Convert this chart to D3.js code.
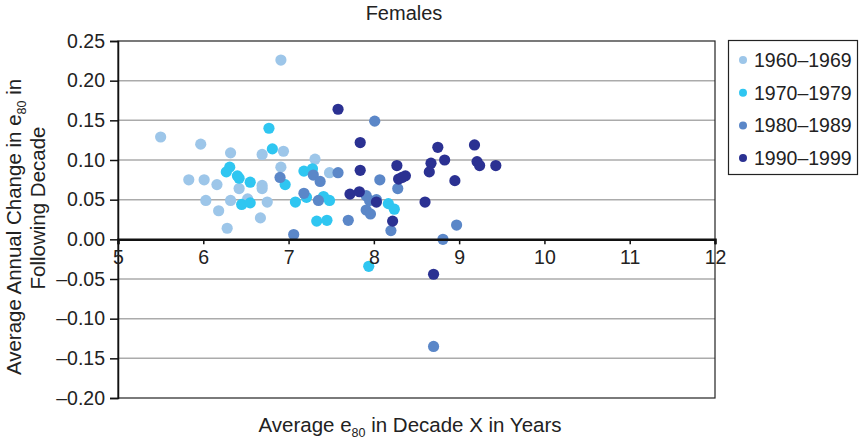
<!DOCTYPE html>
<html>
<head>
<meta charset="utf-8">
<script src="https://cdn.jsdelivr.net/npm/d3@7"></script>
<style>
body { margin: 0; background: #fff; }
text { font-family: "Liberation Sans", Arial, Helvetica, sans-serif; fill: #222; }
</style>
</head>
<body>
<svg id="chart" width="866" height="443"></svg>
<script>
var decades = ["1960–1969", "1970–1979", "1980–1989", "1990–1999"];
var decadeColors = ["#9dc6e9", "#2fc6f1", "#5b87c8", "#2b3192"];

// average e80 in decade X (years)
var e80_1960s = [5.50,5.97,6.32,6.69,6.94,6.91,6.91,5.83,6.01,6.16,6.42,6.69,6.69,6.03,6.32,6.52,6.75,6.18,6.67,6.28,7.31,7.48];
var chg_1960s = [0.129,0.120,0.109,0.107,0.111,0.091,0.226,0.075,0.075,0.069,0.064,0.068,0.064,0.049,0.049,0.051,0.047,0.036,0.027,0.014,0.101,0.084];

var e80_1970s = [6.77,6.81,6.31,6.27,6.40,6.42,6.55,6.96,6.45,6.55,7.08,7.18,7.28,7.21,7.41,7.48,7.33,7.45,8.17,8.24,7.94];
var chg_1970s = [0.140,0.114,0.091,0.085,0.080,0.077,0.072,0.069,0.044,0.046,0.047,0.086,0.089,0.053,0.054,0.049,0.023,0.024,0.045,0.038,-0.034];

var e80_1980s = [6.90,7.06,8.01,7.29,7.37,7.58,8.07,8.28,7.18,7.35,7.91,7.95,8.03,7.91,7.96,7.70,8.20,8.97,8.81,8.70];
var chg_1980s = [0.078,0.006,0.149,0.081,0.073,0.084,0.075,0.064,0.058,0.049,0.055,0.049,0.050,0.037,0.032,0.024,0.011,0.018,0.000,-0.135];

var e80_1990s = [7.58,7.84,7.84,8.27,8.29,8.37,8.33,7.72,7.83,8.03,8.22,8.75,9.18,8.67,8.83,9.21,9.24,9.43,8.65,8.95,8.60,8.70];
var chg_1990s = [0.164,0.122,0.087,0.093,0.076,0.080,0.078,0.057,0.060,0.047,0.023,0.116,0.119,0.096,0.100,0.098,0.093,0.093,0.085,0.074,0.047,-0.044];

var xTicks = [5, 6, 7, 8, 9, 10, 11, 12];
var yTicks = [-0.20, -0.15, -0.10, -0.05, 0.00, 0.05, 0.10, 0.15, 0.20, 0.25];

var seriesX = [e80_1960s, e80_1970s, e80_1980s, e80_1990s];
var seriesY = [chg_1960s, chg_1970s, chg_1980s, chg_1990s];

var svg = d3.select("#chart");
var pLeft = 118, pRight = 715, pTop = 41, pBottom = 398;

var x = d3.scaleLinear().domain([5, 12]).range([pLeft, pRight]);
var y = d3.scaleLinear().domain([-0.20, 0.25]).range([pBottom, pTop]);

// gridlines
svg.append("g").selectAll("line")
    .data(yTicks.filter(function(d) { return d !== 0 && d > -0.2 && d < 0.25; }))
    .enter().append("line")
    .attr("x1", pLeft).attr("x2", pRight)
    .attr("y1", function(d) { return y(d); }).attr("y2", function(d) { return y(d); })
    .style("stroke", "#ababab").style("stroke-width", "1.5px");

// plot frame
svg.append("rect").attr("x", pLeft).attr("y", pTop).attr("width", pRight - pLeft).attr("height", pBottom - pTop)
    .style("fill", "none").style("stroke", "#222").style("stroke-width", "1.2px");

// points
var points = [];
seriesX.forEach(function(xs, i) {
    xs.forEach(function(v, j) { points.push({x: v, y: seriesY[i][j], k: i}); });
});
svg.append("g").selectAll("circle")
    .data(points)
    .enter().append("circle")
    .attr("cx", function(d) { return x(d.x); })
    .attr("cy", function(d) { return y(d.y); })
    .attr("r", 5.6)
    .style("fill", function(d) { return decadeColors[d.k]; });

// y axis
var yAxis = d3.axisLeft(y).tickValues(yTicks).tickSize(8).tickPadding(5)
    .tickFormat(function(d) { return (d < 0 ? "–" : "") + Math.abs(d).toFixed(2); });
var gy = svg.append("g").attr("transform", "translate(" + pLeft + ",0)").call(yAxis);
gy.select(".domain").style("stroke", "#111").style("stroke-width", "1.5px");
gy.selectAll(".tick line").style("stroke", "#111").style("stroke-width", "1.5px");
gy.selectAll(".tick text").style("font-size", "19.5px").style("fill", "#222");

// x axis on zero line
var xAxis = d3.axisBottom(x).tickValues(xTicks).tickSize(5).tickPadding(6).tickFormat(d3.format("d"));
var gx = svg.append("g").attr("transform", "translate(0," + y(0) + ")").call(xAxis);
gx.select(".domain").style("stroke", "#111").style("stroke-width", "2.5px");
gx.selectAll(".tick line").style("stroke", "#111").style("stroke-width", "1.5px");
gx.selectAll(".tick text").style("font-size", "19.5px").style("fill", "#222");

// title
svg.append("text").attr("x", 404).attr("y", 20).attr("text-anchor", "middle")
    .style("font-size", "20px").text("Females");

// x axis title
var xt = svg.append("text").attr("x", 410).attr("y", 432).attr("text-anchor", "middle").style("font-size", "20.5px");
xt.append("tspan").text("Average e");
xt.append("tspan").attr("dy", 5).style("font-size", "12.5px").text("80");
xt.append("tspan").attr("dy", -5).text(" in Decade X in Years");

// y axis title
var yt1 = svg.append("text").attr("transform", "translate(21,227) rotate(-90)").attr("text-anchor", "middle").style("font-size", "20.5px");
yt1.append("tspan").text("Average Annual Change in e");
yt1.append("tspan").attr("dy", 5).style("font-size", "12.5px").text("80");
yt1.append("tspan").attr("dy", -5).text(" in");
svg.append("text").attr("transform", "translate(45,208) rotate(-90)").attr("text-anchor", "middle")
    .style("font-size", "20.5px").text("Following Decade");

// legend
var lg = svg.append("g");
lg.append("rect").attr("x", 728.5).attr("y", 40.5).attr("width", 129).attr("height", 134)
    .style("fill", "none").style("stroke", "#222").style("stroke-width", "1.2px");
var item = lg.selectAll("g.item").data(decades).enter().append("g").attr("class", "item")
    .attr("transform", function(d, i) { return "translate(0," + (60 + i * 32.7) + ")"; });
item.append("circle").attr("cx", 743).attr("cy", 0).attr("r", 4)
    .style("fill", function(d, i) { return decadeColors[i]; });
item.append("text").attr("x", 754).attr("y", 7).style("font-size", "19.5px").text(function(d) { return d; });
</script>
</body>
</html>
